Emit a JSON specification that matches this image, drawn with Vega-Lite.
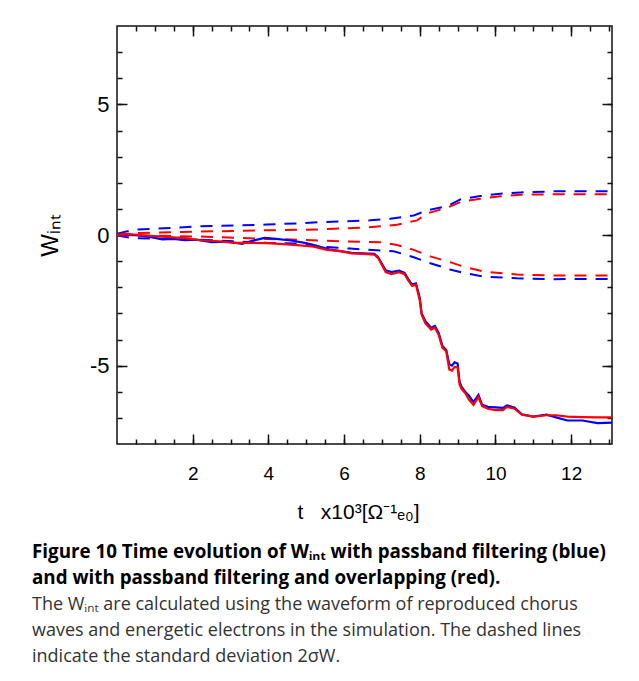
{
  "$schema": "https://vega.github.io/schema/vega-lite/v6.json",
  "autosize": "none",
  "padding": {"left": 117, "top": 26, "right": 27, "bottom": 237},
  "width": 495,
  "height": 418,
  "background": "white",
  "config": {
    "view": {"stroke": "#111", "strokeWidth": 1.5},
    "axis": {"grid": false, "domain": false, "tickColor": "#111", "tickWidth": 1.5, "labelFlush": false, "labelOverlap": false}
  },
  "title": {
    "text": ["Figure 10 Time evolution of Wᵢₙₜ with passband filtering (blue)", "and with passband filtering and overlapping (red)."],
    "subtitle": ["The Wᵢₙₜ are calculated using the waveform of reproduced chorus", "waves and energetic electrons in the simulation. The dashed lines", "indicate the standard deviation 2σW."],
    "orient": "bottom",
    "anchor": "start",
    "frame": "group",
    "dx": -85,
    "offset": 21,
    "font": "Open Sans",
    "fontSize": 18.8,
    "fontWeight": "bold",
    "color": "#000",
    "lineHeight": 26,
    "subtitleFont": "Open Sans",
    "subtitleFontSize": 18,
    "subtitleFontWeight": "normal",
    "subtitleColor": "#333",
    "subtitleLineHeight": 26,
    "subtitlePadding": 8
  },
  "data": {"values": [
    {"t": 0, "W": 0.05, "run": "blue", "kind": "upper"},
    {"t": 0.43, "W": 0.2, "run": "blue", "kind": "upper"},
    {"t": 2.2, "W": 0.33, "run": "blue", "kind": "upper"},
    {"t": 3.96, "W": 0.4, "run": "blue", "kind": "upper"},
    {"t": 4.84, "W": 0.45, "run": "blue", "kind": "upper"},
    {"t": 5.37, "W": 0.49, "run": "blue", "kind": "upper"},
    {"t": 6.69, "W": 0.56, "run": "blue", "kind": "upper"},
    {"t": 7.22, "W": 0.62, "run": "blue", "kind": "upper"},
    {"t": 7.84, "W": 0.75, "run": "blue", "kind": "upper"},
    {"t": 8.19, "W": 0.94, "run": "blue", "kind": "upper"},
    {"t": 8.72, "W": 1.1, "run": "blue", "kind": "upper"},
    {"t": 9.07, "W": 1.36, "run": "blue", "kind": "upper"},
    {"t": 9.6, "W": 1.49, "run": "blue", "kind": "upper"},
    {"t": 10.13, "W": 1.58, "run": "blue", "kind": "upper"},
    {"t": 10.66, "W": 1.63, "run": "blue", "kind": "upper"},
    {"t": 11.54, "W": 1.67, "run": "blue", "kind": "upper"},
    {"t": 13.08, "W": 1.68, "run": "blue", "kind": "upper"},
    {"t": 0, "W": -0.02, "run": "blue", "kind": "lower"},
    {"t": 0.43, "W": -0.12, "run": "blue", "kind": "lower"},
    {"t": 2.2, "W": -0.18, "run": "blue", "kind": "lower"},
    {"t": 3.96, "W": -0.3, "run": "blue", "kind": "lower"},
    {"t": 4.84, "W": -0.33, "run": "blue", "kind": "lower"},
    {"t": 5.4, "W": -0.45, "run": "blue", "kind": "lower"},
    {"t": 6.16, "W": -0.52, "run": "blue", "kind": "lower"},
    {"t": 7.31, "W": -0.62, "run": "blue", "kind": "lower"},
    {"t": 7.84, "W": -0.85, "run": "blue", "kind": "lower"},
    {"t": 8.28, "W": -1.08, "run": "blue", "kind": "lower"},
    {"t": 8.8, "W": -1.32, "run": "blue", "kind": "lower"},
    {"t": 9.2, "W": -1.46, "run": "blue", "kind": "lower"},
    {"t": 9.69, "W": -1.59, "run": "blue", "kind": "lower"},
    {"t": 10.57, "W": -1.66, "run": "blue", "kind": "lower"},
    {"t": 11.45, "W": -1.69, "run": "blue", "kind": "lower"},
    {"t": 13.08, "W": -1.68, "run": "blue", "kind": "lower"},
    {"t": 0, "W": 0.03, "run": "red", "kind": "upper"},
    {"t": 0.43, "W": 0.07, "run": "red", "kind": "upper"},
    {"t": 2.2, "W": 0.13, "run": "red", "kind": "upper"},
    {"t": 3.96, "W": 0.18, "run": "red", "kind": "upper"},
    {"t": 5.37, "W": 0.21, "run": "red", "kind": "upper"},
    {"t": 5.72, "W": 0.24, "run": "red", "kind": "upper"},
    {"t": 6.52, "W": 0.28, "run": "red", "kind": "upper"},
    {"t": 7.4, "W": 0.39, "run": "red", "kind": "upper"},
    {"t": 7.93, "W": 0.56, "run": "red", "kind": "upper"},
    {"t": 8.2, "W": 0.83, "run": "red", "kind": "upper"},
    {"t": 8.72, "W": 1.04, "run": "red", "kind": "upper"},
    {"t": 9.07, "W": 1.26, "run": "red", "kind": "upper"},
    {"t": 9.6, "W": 1.39, "run": "red", "kind": "upper"},
    {"t": 10.13, "W": 1.48, "run": "red", "kind": "upper"},
    {"t": 10.66, "W": 1.54, "run": "red", "kind": "upper"},
    {"t": 11.54, "W": 1.56, "run": "red", "kind": "upper"},
    {"t": 13.08, "W": 1.56, "run": "red", "kind": "upper"},
    {"t": 0, "W": -0.02, "run": "red", "kind": "lower"},
    {"t": 1.0, "W": -0.03, "run": "red", "kind": "lower"},
    {"t": 2.2, "W": -0.06, "run": "red", "kind": "lower"},
    {"t": 3.96, "W": -0.15, "run": "red", "kind": "lower"},
    {"t": 4.84, "W": -0.18, "run": "red", "kind": "lower"},
    {"t": 5.72, "W": -0.23, "run": "red", "kind": "lower"},
    {"t": 6.96, "W": -0.28, "run": "red", "kind": "lower"},
    {"t": 7.4, "W": -0.38, "run": "red", "kind": "lower"},
    {"t": 7.84, "W": -0.57, "run": "red", "kind": "lower"},
    {"t": 8.28, "W": -0.82, "run": "red", "kind": "lower"},
    {"t": 8.8, "W": -1.04, "run": "red", "kind": "lower"},
    {"t": 9.2, "W": -1.23, "run": "red", "kind": "lower"},
    {"t": 9.69, "W": -1.4, "run": "red", "kind": "lower"},
    {"t": 10.57, "W": -1.51, "run": "red", "kind": "lower"},
    {"t": 11.45, "W": -1.55, "run": "red", "kind": "lower"},
    {"t": 13.08, "W": -1.55, "run": "red", "kind": "lower"},
    {"t": 0, "W": 0.03, "run": "blue", "kind": "mean"},
    {"t": 0.3, "W": 0.0, "run": "blue", "kind": "mean"},
    {"t": 0.6, "W": -0.02, "run": "blue", "kind": "mean"},
    {"t": 0.9, "W": -0.08, "run": "blue", "kind": "mean"},
    {"t": 1.2, "W": -0.17, "run": "blue", "kind": "mean"},
    {"t": 1.5, "W": -0.15, "run": "blue", "kind": "mean"},
    {"t": 1.8, "W": -0.2, "run": "blue", "kind": "mean"},
    {"t": 2.1, "W": -0.18, "run": "blue", "kind": "mean"},
    {"t": 2.5, "W": -0.27, "run": "blue", "kind": "mean"},
    {"t": 2.9, "W": -0.25, "run": "blue", "kind": "mean"},
    {"t": 3.3, "W": -0.34, "run": "blue", "kind": "mean"},
    {"t": 3.6, "W": -0.21, "run": "blue", "kind": "mean"},
    {"t": 3.9, "W": -0.11, "run": "blue", "kind": "mean"},
    {"t": 4.2, "W": -0.15, "run": "blue", "kind": "mean"},
    {"t": 4.6, "W": -0.21, "run": "blue", "kind": "mean"},
    {"t": 5.0, "W": -0.31, "run": "blue", "kind": "mean"},
    {"t": 5.3, "W": -0.42, "run": "blue", "kind": "mean"},
    {"t": 5.6, "W": -0.55, "run": "blue", "kind": "mean"},
    {"t": 5.9, "W": -0.62, "run": "blue", "kind": "mean"},
    {"t": 6.2, "W": -0.68, "run": "blue", "kind": "mean"},
    {"t": 6.5, "W": -0.7, "run": "blue", "kind": "mean"},
    {"t": 6.8, "W": -0.72, "run": "blue", "kind": "mean"},
    {"t": 6.9, "W": -0.85, "run": "blue", "kind": "mean"},
    {"t": 7.0, "W": -1.1, "run": "blue", "kind": "mean"},
    {"t": 7.1, "W": -1.35, "run": "blue", "kind": "mean"},
    {"t": 7.25, "W": -1.42, "run": "blue", "kind": "mean"},
    {"t": 7.45, "W": -1.36, "run": "blue", "kind": "mean"},
    {"t": 7.6, "W": -1.45, "run": "blue", "kind": "mean"},
    {"t": 7.7, "W": -1.7, "run": "blue", "kind": "mean"},
    {"t": 7.8, "W": -1.9, "run": "blue", "kind": "mean"},
    {"t": 7.9, "W": -1.85, "run": "blue", "kind": "mean"},
    {"t": 8.0, "W": -2.4, "run": "blue", "kind": "mean"},
    {"t": 8.05, "W": -3.0, "run": "blue", "kind": "mean"},
    {"t": 8.15, "W": -3.3, "run": "blue", "kind": "mean"},
    {"t": 8.3, "W": -3.55, "run": "blue", "kind": "mean"},
    {"t": 8.4, "W": -3.48, "run": "blue", "kind": "mean"},
    {"t": 8.5, "W": -3.75, "run": "blue", "kind": "mean"},
    {"t": 8.6, "W": -4.25, "run": "blue", "kind": "mean"},
    {"t": 8.7, "W": -4.4, "run": "blue", "kind": "mean"},
    {"t": 8.78, "W": -4.95, "run": "blue", "kind": "mean"},
    {"t": 8.85, "W": -5.0, "run": "blue", "kind": "mean"},
    {"t": 8.92, "W": -4.87, "run": "blue", "kind": "mean"},
    {"t": 9.0, "W": -4.92, "run": "blue", "kind": "mean"},
    {"t": 9.05, "W": -5.6, "run": "blue", "kind": "mean"},
    {"t": 9.1, "W": -5.8, "run": "blue", "kind": "mean"},
    {"t": 9.2, "W": -6.0, "run": "blue", "kind": "mean"},
    {"t": 9.3, "W": -6.15, "run": "blue", "kind": "mean"},
    {"t": 9.42, "W": -6.4, "run": "blue", "kind": "mean"},
    {"t": 9.55, "W": -6.12, "run": "blue", "kind": "mean"},
    {"t": 9.65, "W": -6.5, "run": "blue", "kind": "mean"},
    {"t": 9.8, "W": -6.58, "run": "blue", "kind": "mean"},
    {"t": 10.0, "W": -6.6, "run": "blue", "kind": "mean"},
    {"t": 10.2, "W": -6.62, "run": "blue", "kind": "mean"},
    {"t": 10.3, "W": -6.52, "run": "blue", "kind": "mean"},
    {"t": 10.5, "W": -6.6, "run": "blue", "kind": "mean"},
    {"t": 10.7, "W": -6.86, "run": "blue", "kind": "mean"},
    {"t": 11.0, "W": -6.95, "run": "blue", "kind": "mean"},
    {"t": 11.35, "W": -6.88, "run": "blue", "kind": "mean"},
    {"t": 11.6, "W": -6.98, "run": "blue", "kind": "mean"},
    {"t": 11.9, "W": -7.1, "run": "blue", "kind": "mean"},
    {"t": 12.3, "W": -7.1, "run": "blue", "kind": "mean"},
    {"t": 12.7, "W": -7.2, "run": "blue", "kind": "mean"},
    {"t": 13.08, "W": -7.18, "run": "blue", "kind": "mean"},
    {"t": 0, "W": 0.02, "run": "red", "kind": "mean"},
    {"t": 0.3, "W": 0.03, "run": "red", "kind": "mean"},
    {"t": 0.6, "W": 0.0, "run": "red", "kind": "mean"},
    {"t": 1.2, "W": -0.06, "run": "red", "kind": "mean"},
    {"t": 1.8, "W": -0.12, "run": "red", "kind": "mean"},
    {"t": 2.2, "W": -0.2, "run": "red", "kind": "mean"},
    {"t": 2.6, "W": -0.23, "run": "red", "kind": "mean"},
    {"t": 3.1, "W": -0.3, "run": "red", "kind": "mean"},
    {"t": 3.5, "W": -0.3, "run": "red", "kind": "mean"},
    {"t": 3.96, "W": -0.31, "run": "red", "kind": "mean"},
    {"t": 4.4, "W": -0.35, "run": "red", "kind": "mean"},
    {"t": 4.84, "W": -0.4, "run": "red", "kind": "mean"},
    {"t": 5.2, "W": -0.45, "run": "red", "kind": "mean"},
    {"t": 5.55, "W": -0.57, "run": "red", "kind": "mean"},
    {"t": 5.9, "W": -0.62, "run": "red", "kind": "mean"},
    {"t": 6.2, "W": -0.7, "run": "red", "kind": "mean"},
    {"t": 6.5, "W": -0.72, "run": "red", "kind": "mean"},
    {"t": 6.8, "W": -0.75, "run": "red", "kind": "mean"},
    {"t": 6.9, "W": -0.88, "run": "red", "kind": "mean"},
    {"t": 7.0, "W": -1.15, "run": "red", "kind": "mean"},
    {"t": 7.1, "W": -1.42, "run": "red", "kind": "mean"},
    {"t": 7.25, "W": -1.5, "run": "red", "kind": "mean"},
    {"t": 7.45, "W": -1.42, "run": "red", "kind": "mean"},
    {"t": 7.6, "W": -1.5, "run": "red", "kind": "mean"},
    {"t": 7.7, "W": -1.75, "run": "red", "kind": "mean"},
    {"t": 7.8, "W": -1.95, "run": "red", "kind": "mean"},
    {"t": 7.9, "W": -1.9, "run": "red", "kind": "mean"},
    {"t": 8.0, "W": -2.5, "run": "red", "kind": "mean"},
    {"t": 8.05, "W": -3.05, "run": "red", "kind": "mean"},
    {"t": 8.15, "W": -3.38, "run": "red", "kind": "mean"},
    {"t": 8.3, "W": -3.62, "run": "red", "kind": "mean"},
    {"t": 8.4, "W": -3.55, "run": "red", "kind": "mean"},
    {"t": 8.5, "W": -3.82, "run": "red", "kind": "mean"},
    {"t": 8.6, "W": -4.32, "run": "red", "kind": "mean"},
    {"t": 8.7, "W": -4.45, "run": "red", "kind": "mean"},
    {"t": 8.78, "W": -5.15, "run": "red", "kind": "mean"},
    {"t": 8.85, "W": -5.19, "run": "red", "kind": "mean"},
    {"t": 8.92, "W": -5.05, "run": "red", "kind": "mean"},
    {"t": 9.0, "W": -5.07, "run": "red", "kind": "mean"},
    {"t": 9.05, "W": -5.7, "run": "red", "kind": "mean"},
    {"t": 9.1, "W": -5.88, "run": "red", "kind": "mean"},
    {"t": 9.2, "W": -6.05, "run": "red", "kind": "mean"},
    {"t": 9.3, "W": -6.3, "run": "red", "kind": "mean"},
    {"t": 9.42, "W": -6.5, "run": "red", "kind": "mean"},
    {"t": 9.55, "W": -6.2, "run": "red", "kind": "mean"},
    {"t": 9.65, "W": -6.55, "run": "red", "kind": "mean"},
    {"t": 9.8, "W": -6.65, "run": "red", "kind": "mean"},
    {"t": 10.0, "W": -6.7, "run": "red", "kind": "mean"},
    {"t": 10.2, "W": -6.7, "run": "red", "kind": "mean"},
    {"t": 10.3, "W": -6.58, "run": "red", "kind": "mean"},
    {"t": 10.5, "W": -6.65, "run": "red", "kind": "mean"},
    {"t": 10.7, "W": -6.88, "run": "red", "kind": "mean"},
    {"t": 11.0, "W": -6.95, "run": "red", "kind": "mean"},
    {"t": 11.35, "W": -6.9, "run": "red", "kind": "mean"},
    {"t": 11.6, "W": -6.9, "run": "red", "kind": "mean"},
    {"t": 11.9, "W": -6.95, "run": "red", "kind": "mean"},
    {"t": 12.3, "W": -6.97, "run": "red", "kind": "mean"},
    {"t": 12.7, "W": -6.98, "run": "red", "kind": "mean"},
    {"t": 13.08, "W": -6.98, "run": "red", "kind": "mean"}
  ]},
  "resolve": {"axis": {"x": "independent", "y": "independent"}},
  "layer": [
    {
      "transform": [{"filter": "datum.kind !== 'mean'"}],
      "mark": {"type": "line", "strokeWidth": 2, "strokeDash": [12, 9], "clip": true},
      "encoding": {
        "x": {"field": "t", "type": "quantitative", "scale": {"domain": [0, 13.08], "nice": false, "zero": false},
          "axis": {"orient": "bottom", "values": [2, 4, 6, 8, 10, 12], "ticks": false, "labelFont": "Liberation Sans", "labelFontSize": 19, "labelColor": "#000", "labelPadding": 20,
            "title": "t\u00a0\u00a0\u00a0x10³[Ω⁻¹ₑ₀]", "titleFont": "Liberation Sans", "titleFontSize": 21, "titleFontWeight": "normal", "titleColor": "#000", "titlePadding": 18, "titleX": 241}},
        "y": {"field": "W", "type": "quantitative", "scale": {"domain": [-8, 8], "nice": false, "zero": false},
          "axis": {"orient": "left", "values": [-5, 0, 5], "ticks": false, "labelExpr": "'' + datum.value", "labelFont": "Liberation Sans", "labelFontSize": 22, "labelColor": "#000", "labelPadding": 8,
            "title": "Wᵢₙₜ", "titleFont": "Liberation Sans", "titleFontSize": 24, "titleFontWeight": "normal", "titleColor": "#000", "titlePadding": 27}},
        "color": {"field": "run", "type": "nominal", "scale": {"domain": ["blue", "red"], "range": ["#0000ff", "#ff0000"]}, "legend": null},
        "detail": {"field": "kind"}
      }
    },
    {
      "transform": [{"filter": "datum.kind === 'mean'"}],
      "mark": {"type": "line", "strokeWidth": 2.2, "clip": true},
      "encoding": {
        "x": {"field": "t", "type": "quantitative", "axis": {"orient": "bottom", "values": [2, 4, 6, 8, 10, 12], "tickSize": -10, "labels": false, "title": null}},
        "y": {"field": "W", "type": "quantitative", "axis": {"orient": "left", "values": [-5, 0, 5], "tickSize": -10, "labels": false, "title": null}},
        "color": {"field": "run", "type": "nominal", "legend": null}
      }
    },
    {
      "transform": [{"filter": "datum.kind === 'mean' && datum.run === 'red'"}],
      "mark": {"type": "line", "opacity": 0},
      "encoding": {
        "x": {"field": "t", "type": "quantitative", "axis": {"orient": "bottom", "values": [0.5, 1, 1.5, 2, 2.5, 3, 3.5, 4, 4.5, 5, 5.5, 6, 6.5, 7, 7.5, 8, 8.5, 9, 9.5, 10, 10.5, 11, 11.5, 12, 12.5, 13], "tickSize": -5, "labels": false, "title": null}},
        "y": {"field": "W", "type": "quantitative", "axis": {"orient": "left", "values": [-7, -6, -5, -4, -3, -2, -1, 0, 1, 2, 3, 4, 5, 6, 7], "tickSize": -5, "labels": false, "title": null}}
      }
    },
    {
      "transform": [{"filter": "datum.kind === 'mean' && datum.run === 'red'"}],
      "mark": {"type": "line", "opacity": 0},
      "encoding": {
        "x": {"field": "t", "type": "quantitative", "axis": {"orient": "top", "values": [2, 4, 6, 8, 10, 12], "tickSize": -10, "labels": false, "title": null}},
        "y": {"field": "W", "type": "quantitative", "axis": {"orient": "right", "values": [-5, 0, 5], "tickSize": -10, "labels": false, "title": null}}
      }
    },
    {
      "transform": [{"filter": "datum.kind === 'mean' && datum.run === 'red'"}],
      "mark": {"type": "line", "opacity": 0},
      "encoding": {
        "x": {"field": "t", "type": "quantitative", "axis": {"orient": "top", "values": [0.5, 1, 1.5, 2, 2.5, 3, 3.5, 4, 4.5, 5, 5.5, 6, 6.5, 7, 7.5, 8, 8.5, 9, 9.5, 10, 10.5, 11, 11.5, 12, 12.5, 13], "tickSize": -5, "labels": false, "title": null}},
        "y": {"field": "W", "type": "quantitative", "axis": {"orient": "right", "values": [-7, -6, -5, -4, -3, -2, -1, 0, 1, 2, 3, 4, 5, 6, 7], "tickSize": -5, "labels": false, "title": null}}
      }
    }
  ]
}
